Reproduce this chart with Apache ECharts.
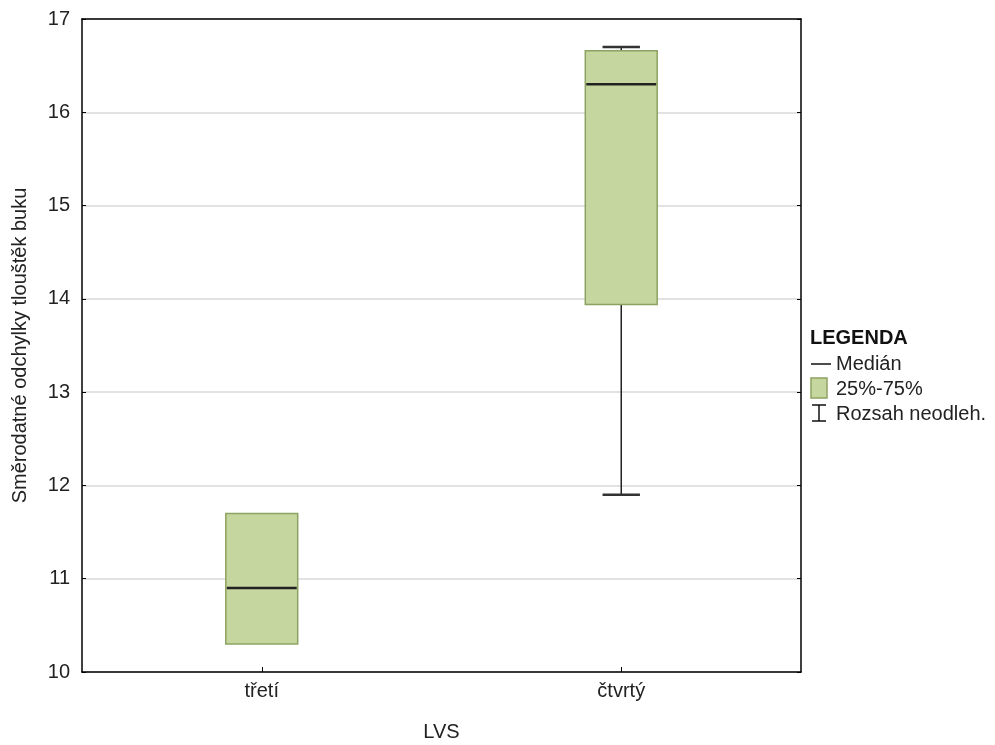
<!DOCTYPE html>
<html><head><meta charset="utf-8">
<script src="https://cdn.jsdelivr.net/npm/echarts@6/dist/echarts.min.js"></script>
<style>html,body{margin:0;padding:0;background:#fff}#c{width:995px;height:745px}</style>
</head><body><div id="c"></div>
<script>
const categories = ['třetí', 'čtvrtý'];
const minVals = [10.3, 11.9];
const q1Vals = [10.3, 13.94];
const medianVals = [10.9, 16.3];
const q3Vals = [11.7, 16.66];
const maxVals = [11.7, 16.7];
const yTicks = [10, 11, 12, 13, 14, 15, 16, 17];

const data = categories.map((c, i) => [i, minVals[i], q1Vals[i], medianVals[i], q3Vals[i], maxVals[i]]);
const FONT = 'Liberation Sans, Arial, sans-serif';
const fill = '#c5d69f', edge = '#8da262';

const chart = echarts.init(document.getElementById('c'), null, {renderer: 'canvas'});
chart.setOption({
  animation: false,
  backgroundColor: '#fff',
  grid: {left: 82, right: 194, top: 19, bottom: 73, outerBoundsMode: 'none', containLabel: false},
  xAxis: [{
    type: 'category', data: categories, boundaryGap: true,
    name: 'LVS', nameLocation: 'middle', nameGap: 50,
    nameTextStyle: {fontFamily: FONT, fontSize: 20, color: '#222'},
    axisLine: {show: true, lineStyle: {color: '#000', width: 1.5}},
    axisTick: {show: true, inside: true, alignWithLabel: true, length: 5, lineStyle: {color: '#000'}},
    axisLabel: {fontFamily: FONT, fontSize: 20, color: '#222', margin: 9},
    splitLine: {show: false}
  }, {
    type: 'category', data: categories, position: 'top', boundaryGap: true,
    axisLine: {show: true, lineStyle: {color: '#000', width: 1.5}},
    axisTick: {show: false}, axisLabel: {show: false}, splitLine: {show: false}
  }],
  yAxis: [{
    type: 'value', min: 10, max: 17, interval: 1,
    name: 'Směrodatné odchylky tlouštěk buku', nameLocation: 'middle', nameGap: 52,
    nameTextStyle: {fontFamily: FONT, fontSize: 20, color: '#222'},
    axisLine: {show: true, lineStyle: {color: '#000', width: 1.5}},
    axisTick: {show: true, inside: true, length: 4, lineStyle: {color: '#000'}},
    axisLabel: {fontFamily: FONT, fontSize: 20, color: '#222', margin: 12,
      formatter: v => yTicks.includes(v) ? String(v) : ''},
    splitLine: {show: true, lineStyle: {color: '#d9d9d9', width: 1.5}}
  }, {
    type: 'value', min: 10, max: 17, interval: 1, position: 'right',
    axisLine: {show: true, lineStyle: {color: '#000', width: 1.5}},
    axisTick: {show: true, inside: true, length: 4, lineStyle: {color: '#000'}},
    axisLabel: {show: false}, splitLine: {show: false}
  }],
  series: [{
    type: 'custom',
    data: data,
    encode: {x: 0, y: [1, 2, 3, 4, 5]},
    renderItem: function (params, api) {
      const x = api.value(0);
      const pMin = api.coord([x, api.value(1)]);
      const pQ1 = api.coord([x, api.value(2)]);
      const pMed = api.coord([x, api.value(3)]);
      const pQ3 = api.coord([x, api.value(4)]);
      const pMax = api.coord([x, api.value(5)]);
      const bw = api.size([1, 0])[0] * 0.2;
      const cw = bw * 0.52;
      const cx = pMed[0];
      const children = [];
      const ls = {stroke: '#222', lineWidth: 1.5};
      if (pMax[1] < pQ3[1] - 0.5) {
        children.push({type: 'line', shape: {x1: cx, y1: pMax[1], x2: cx, y2: pQ3[1]}, style: ls});
        children.push({type: 'line', shape: {x1: cx - cw / 2, y1: pMax[1], x2: cx + cw / 2, y2: pMax[1]}, style: {stroke: '#333', lineWidth: 2.5}});
      }
      if (pMin[1] > pQ1[1] + 0.5) {
        children.push({type: 'line', shape: {x1: cx, y1: pQ1[1], x2: cx, y2: pMin[1]}, style: ls});
        children.push({type: 'line', shape: {x1: cx - cw / 2, y1: pMin[1], x2: cx + cw / 2, y2: pMin[1]}, style: {stroke: '#333', lineWidth: 2.5}});
      }
      children.push({type: 'rect', shape: {x: cx - bw / 2, y: pQ3[1], width: bw, height: pQ1[1] - pQ3[1]},
        style: {fill: fill, stroke: edge, lineWidth: 1.5}});
      children.push({type: 'line', shape: {x1: cx - bw / 2 + 1, y1: pMed[1], x2: cx + bw / 2 - 1, y2: pMed[1]},
        style: {stroke: '#222', lineWidth: 2.5}});
      return {type: 'group', children: children};
    },
    z: 5
  }],
  graphic: [
    {type: 'text', left: 810, top: 328, style: {text: 'LEGENDA', font: 'bold 20px ' + FONT, fill: '#111'}},
    {type: 'line', shape: {x1: 811, y1: 364, x2: 831, y2: 364}, style: {stroke: '#111', lineWidth: 1.5}},
    {type: 'text', left: 836, top: 354, style: {text: 'Medián', font: '20px ' + FONT, fill: '#222'}},
    {type: 'rect', shape: {x: 811, y: 378, width: 16, height: 20}, style: {fill: fill, stroke: edge, lineWidth: 1.5}},
    {type: 'text', left: 836, top: 379, style: {text: '25%-75%', font: '20px ' + FONT, fill: '#222'}},
    {type: 'line', shape: {x1: 812, y1: 405, x2: 826, y2: 405}, style: {stroke: '#111', lineWidth: 1.5}},
    {type: 'line', shape: {x1: 819, y1: 405, x2: 819, y2: 421}, style: {stroke: '#111', lineWidth: 1.5}},
    {type: 'line', shape: {x1: 812, y1: 421, x2: 826, y2: 421}, style: {stroke: '#111', lineWidth: 1.5}},
    {type: 'text', left: 836, top: 404, style: {text: 'Rozsah neodleh.', font: '20px ' + FONT, fill: '#222'}}
  ]
});
</script></body></html>
